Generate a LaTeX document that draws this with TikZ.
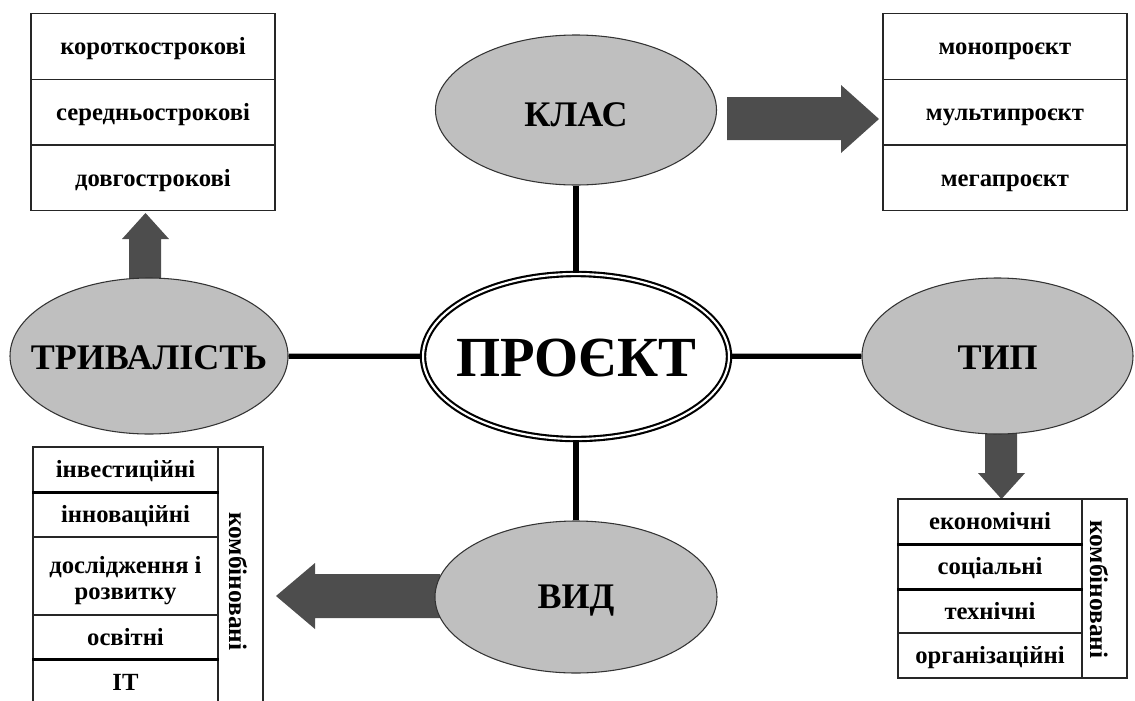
\documentclass[tikz,border=0pt]{standalone}
\usepackage{fontspec}
\setmainfont{Liberation Serif}
\usetikzlibrary{shapes.geometric}
\definecolor{ellfill}{RGB}{191,191,191}
\definecolor{arrfill}{RGB}{77,77,77}
\begin{document}
\begin{tikzpicture}[x=0.75pt,y=-0.75pt,
 ell/.style={ellipse, draw=black!80, line width=0.8pt, fill=ellfill, inner sep=0pt},
 elltext/.style={font=\bfseries\fontsize{27}{30}\selectfont, inner sep=0pt},
 core/.style={ellipse, draw=black, double=white, line width=1.6pt, double distance=1.6pt, fill=white, inner sep=0pt},
 coretext/.style={font=\bfseries\fontsize{42.5}{46}\selectfont, inner sep=0pt},
 conn/.style={line width=3.9pt, black},
 cell/.style={rectangle, draw=black!85, line width=0.8pt, inner sep=0pt, align=center, text height=15pt, text depth=3pt, font=\bfseries\fontsize{18.5}{21}\selectfont},
 frame/.style={rectangle, draw=black!85, line width=0.8pt, inner sep=0pt},
 coltext/.style={rotate=-90, anchor=base, inner sep=0pt, font=\bfseries\fontsize{19}{21}\selectfont},
 thickdiv/.style={line width=2.2pt, black},
 blockarrow/.style={fill=arrfill, draw=none}]
\useasboundingbox (0,0) rectangle (1135,700);

% block arrows (drawn first, under the ellipses)
\fill[blockarrow] (129,285) -- (129,239) -- (122,239) -- (145.5,213) -- (169,239) -- (161,239) -- (161,285) -- cycle;
\fill[blockarrow] (727,97) -- (841,97) -- (841,85) -- (879,119) -- (841,153) -- (841,140) -- (727,140) -- cycle;
\fill[blockarrow] (985,425) -- (985,473) -- (978,473) -- (1001.5,499) -- (1025,473) -- (1017,473) -- (1017,425) -- cycle;
\fill[blockarrow] (440,574) -- (315,574) -- (315,563) -- (276,596) -- (315,629) -- (315,618) -- (440,618) -- cycle;

% central and category ellipses
\node[core, minimum width=229.5pt, minimum height=123.75pt, label={[coretext, yshift=-1pt]center:ПРОЄКТ}] (proekt) at (576,356.5) {};
\node[ell, minimum width=210.75pt, minimum height=112.5pt, label={[elltext, yshift=-3.5pt]center:КЛАС}] (klas) at (576,110) {};
\node[ell, minimum width=208.5pt, minimum height=117pt, label={[elltext, yshift=-1.5pt]center:ТРИВАЛІСТЬ}] (tryv) at (149,356) {};
\node[ell, minimum width=203.25pt, minimum height=117pt, label={[elltext, yshift=-1.5pt]center:ТИП}] (typ) at (997.5,356) {};
\node[ell, minimum width=211.5pt, minimum height=114pt, label={[elltext, yshift=-2.5pt]center:ВИД}] (vyd) at (576,597) {};

% connectors
\draw[conn] (klas) -- (proekt);
\draw[conn] (vyd) -- (proekt);
\draw[conn] (tryv) -- (proekt);
\draw[conn] (typ) -- (proekt);

% top-left table
\node[cell, minimum width=183pt, minimum height=49.25pt] (t1) at (153,46.5) {короткострокові};
\node[cell, minimum width=183pt, minimum height=49.25pt] (t2) at (153,112) {середньострокові};
\node[cell, minimum width=183pt, minimum height=49.25pt] (t3) at (153,178) {довгострокові};

% top-right table
\node[cell, minimum width=183pt, minimum height=49.25pt] (k1) at (1005,46.5) {монопроєкт};
\node[cell, minimum width=183pt, minimum height=49.25pt] (k2) at (1005,112) {мультипроєкт};
\node[cell, minimum width=183pt, minimum height=49.25pt] (k3) at (1005,178) {мегапроєкт};

% bottom-left table
\node[cell, minimum width=138.75pt, minimum height=33.75pt] (v1) at (125.5,469.5) {інвестиційні};
\node[cell, minimum width=138.75pt, minimum height=33.75pt] (v2) at (125.5,514.5) {інноваційні};
\node[frame, minimum width=138.75pt, minimum height=58.5pt] (v3) at (125.5,576) {};
\node[align=center, inner sep=0pt, font=\bfseries\fontsize{18.5}{19.5}\selectfont] (v3t) at (125.5,581) {дослідження і\\розвитку};
\node[cell, minimum width=138.75pt, minimum height=33pt] (v4) at (125.5,637) {освітні};
\node[cell, minimum width=138.75pt, minimum height=34.5pt] (v5) at (125.5,682) {IT};
\node[frame, minimum width=33.75pt, minimum height=193.5pt] (vk) at (240.5,576) {};
\node[coltext] (vkt) at (229,581.5) {комбіновані};
\draw[thickdiv] (v1.south west) -- (v1.south east);
\draw[thickdiv] (v4.south west) -- (v4.south east);

% bottom-right table
\node[cell, minimum width=138pt, minimum height=33.75pt] (p1) at (990,521.5) {економічні};
\node[cell, minimum width=138pt, minimum height=33.75pt] (p2) at (990,566.5) {соціальні};
\node[cell, minimum width=138pt, minimum height=33pt] (p3) at (990,611) {технічні};
\node[cell, minimum width=138pt, minimum height=33.75pt] (p4) at (990,655.5) {організаційні};
\node[frame, minimum width=33.75pt, minimum height=134.25pt] (pk) at (1104.5,588.5) {};
\node[coltext] (pkt) at (1090,589.5) {комбіновані};
\draw[thickdiv] (p1.south west) -- (p1.south east);
\draw[thickdiv] (p2.south west) -- (p2.south east);
\end{tikzpicture}
\end{document}
